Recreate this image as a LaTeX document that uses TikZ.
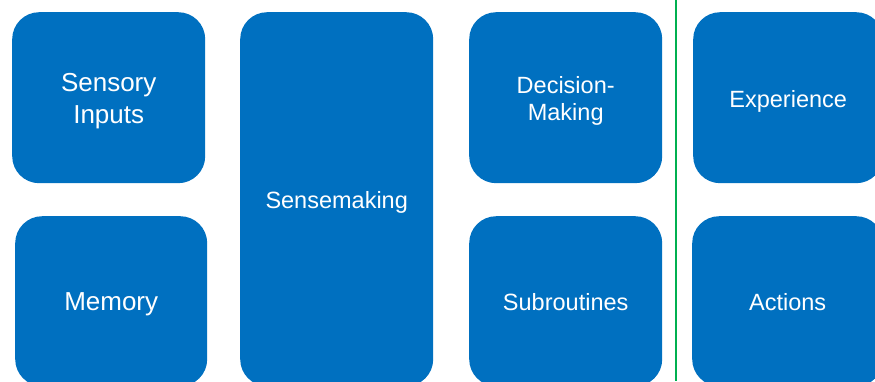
\documentclass[tikz,border=0pt]{standalone}
\usepackage{fontspec}
\setmainfont{Liberation Sans}
\definecolor{boxblue}{HTML}{0070C0}
\definecolor{divgreen}{HTML}{00B050}
\begin{document}
\begin{tikzpicture}[x=1pt,y=-1pt,
  card/.style={fill=boxblue, rounded corners=27pt, inner sep=0pt,
    anchor=north west, minimum width=193pt},
  short/.style={minimum height=171pt},
  txt/.style={text=white, align=center, inner sep=0pt},
  big/.style={font=\fontsize{26}{32}\selectfont},
  mid/.style={font=\fontsize{23.5}{27}\selectfont},
  divider/.style={draw=divgreen, line width=1.5pt}]
\useasboundingbox (0,0) rectangle (875,381);
\clip (0,0) rectangle (875,381);
\node[card, short] (sensory) at (12,12) {};
\node[card, minimum width=192pt, minimum height=170pt] (memory) at (15,216) {};
\node[card, minimum height=374pt] (sensemaking) at (240,12) {};
\node[card, short] (decision) at (469,12) {};
\node[card, minimum height=170pt] (subroutines) at (469,216) {};
\node[card, short, minimum width=190pt] (experience) at (693,12) {};
\node[card, minimum width=191pt, minimum height=170pt] (actions) at (692,216) {};
\node[txt, big] (sensory-t) at ([yshift=-3.5pt]sensory.center) {Sensory\\Inputs};
\node[txt, big] (memory-t) at ([yshift=-3pt]memory.center) {Memory};
\node[txt, mid] (sensemaking-t) at ([yshift=-3pt]sensemaking.center) {Sensemaking};
\node[txt, mid] (decision-t) at ([yshift=-3pt]decision.center) {Decision-\\Making};
\node[txt, mid] (subroutines-t) at ([yshift=-1pt]subroutines.center) {Subroutines};
\node[txt, mid] (experience-t) at ([yshift=-3.5pt]experience.center) {Experience};
\node[txt, mid] (actions-t) at ([yshift=-1pt]actions.center) {Actions};
\coordinate (divtop) at (676,0);
\coordinate (divbot) at (676,381);
\draw[divider] (divtop) -- (divbot);
\end{tikzpicture}
\end{document}
